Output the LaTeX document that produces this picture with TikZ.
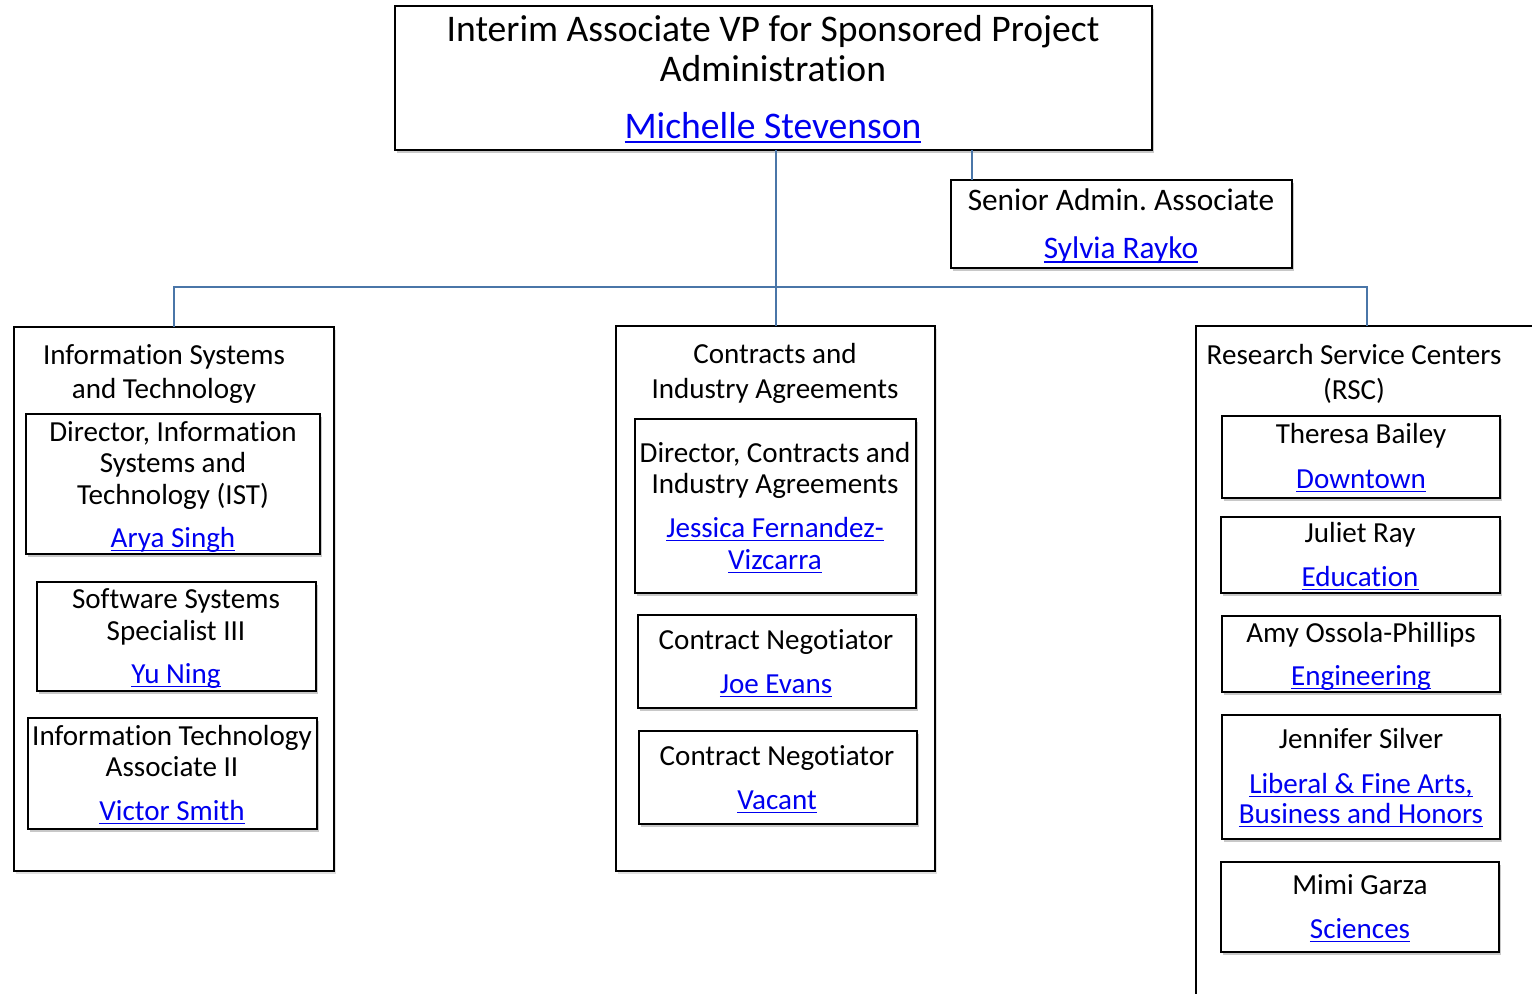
\documentclass[tikz,border=0pt]{standalone}
\usepackage{fontspec}
\setmainfont[RawFeature={-liga;-clig;-calt;-dlig}]{Carlito}
\usetikzlibrary{shadows,fit}
\definecolor{linkblue}{RGB}{0,0,240}
\definecolor{conn}{RGB}{74,118,168}
\newcommand\lnk[1]{\textcolor{linkblue}{\setbox0\hbox{#1}\rlap{\rule[-0.13em]{\wd0}{0.055em}}\box0}}
\frenchspacing
\begin{document}
\begin{tikzpicture}[x=0.75pt,y=-0.75pt,
  box/.style={draw=black, line width=1.4pt, fill=white, inner sep=0pt, outer sep=0pt,
    drop shadow={shadow xshift=1.5pt, shadow yshift=-2.5pt, opacity=0.3, fill=black!70}},
  outerbox/.style={draw=black, line width=1.2pt, fill=white, inner sep=0pt, outer sep=0pt,
    drop shadow={shadow xshift=1.5pt, shadow yshift=-2pt, opacity=0.2, fill=black!60}},
  cline/.style={draw=conn, line width=1.5pt},
  tx/.style={inner sep=0pt, anchor=base, yshift=-1.2pt, font=\fontsize{21.8}{26}\selectfont},
  big/.style={tx, font=\fontsize{28.2}{33}\selectfont},
  mid/.style={tx, font=\fontsize{23.5}{28}\selectfont}]
\useasboundingbox (0,0) rectangle (1532,994);
\fill[white] (0,0) rectangle (1532,994);

% boxes
\node[box, fit={(395,6) (1152,150)}] (top) {};
\node[box, fit={(951,180) (1292,268)}] (sen) {};
\node[outerbox, fit={(14,327) (334,871)}] (ist) {};
\node[outerbox, fit={(616,326) (935,871)}] (ca) {};
\begin{scope}
\clip (0,0) rectangle (1532,994);
\node[outerbox, fit={(1196,326) (1538,1010)}] (rsc) {};
\end{scope}

\node[box, fit={(26,414) (320,554)}] (istdir) {};
\node[box, fit={(37,582) (316,691)}] (sss) {};
\node[box, fit={(28,718) (317,829)}] (ita) {};

\node[box, fit={(635,419) (916,593)}] (cadir) {};
\node[box, fit={(638,615) (916,708)}] (cn1) {};
\node[box, fit={(639,731) (917,824)}] (cn2) {};

\node[box, fit={(1222,416) (1500,498)}] (r1) {};
\node[box, fit={(1221,517) (1500,593)}] (r2) {};
\node[box, fit={(1222,616) (1500,692)}] (r3) {};
\node[box, fit={(1222,715) (1500,839)}] (r4) {};
\node[box, fit={(1221,862) (1499,952)}] (r5) {};

% connectors
\coordinate (sj) at (972,150);
\coordinate (bus) at (775,287);
\draw[cline] (top.south -| ca.north) -- (ca.north);
\draw[cline] (sj) -- (sj |- sen.north);
\draw[cline] (ist.north) |- (bus) -| (rsc.north);

% texts
\node[big] (t1) at (773,40) {Interim Associate VP for Sponsored Project};
\node[big] (t2) at (773,80) {Administration};
\node[big] (t3) at (773,137) {\lnk{Michelle Stevenson}};

\node[mid] (s1) at (1121,209) {Senior Admin. Associate};
\node[mid] (s2) at (1121,257) {\lnk{Sylvia Rayko}};

\node[tx] (i1) at (164,363) {Information Systems};
\node[tx] (i2) at (164,397) {and Technology};
\node[tx] (i3) at (173,440) {Director, Information};
\node[tx] (i4) at (173,471) {Systems and};
\node[tx] (i5) at (173,503) {Technology (IST)};
\node[tx] (i6) at (173,546) {\lnk{Arya Singh}};
\node[tx] (i7) at (176,607) {Software Systems};
\node[tx] (i8) at (176,639) {Specialist III};
\node[tx] (i9) at (176,682) {\lnk{Yu Ning}};
\node[tx] (i10) at (172,744) {Information Technology};
\node[tx] (i11) at (172,775) {Associate II};
\node[tx] (i12) at (172,819) {\lnk{Victor Smith}};

\node[tx] (c1) at (775,362) {Contracts and};
\node[tx] (c2) at (775,397) {Industry Agreements};
\node[tx] (c3) at (775,461) {Director, Contracts and};
\node[tx] (c4) at (775,492) {Industry Agreements};
\node[tx] (c5) at (775,536) {\lnk{Jessica Fernandez-}};
\node[tx] (c6) at (775,568) {\lnk{Vizcarra}};
\node[tx] (c7) at (776,648) {Contract Negotiator};
\node[tx] (c8) at (776,692) {\lnk{Joe Evans}};
\node[tx] (c9) at (777,764) {Contract Negotiator};
\node[tx] (c10) at (777,808) {\lnk{Vacant}};

\node[tx] (r1a) at (1354,363) {Research Service Centers};
\node[tx] (r1b) at (1354,398) {(RSC)};
\node[tx] (r1c) at (1361,442) {Theresa Bailey};
\node[tx] (r1d) at (1361,487) {\lnk{Downtown}};
\node[tx] (r2a) at (1360,541) {Juliet Ray};
\node[tx] (r2b) at (1360,585) {\lnk{Education}};
\node[tx] (r3a) at (1361,641) {Amy Ossola-Phillips};
\node[tx] (r3b) at (1361,684) {\lnk{Engineering}};
\node[tx] (r4a) at (1361,747) {Jennifer Silver};
\node[tx] (r4b) at (1361,792) {\lnk{Liberal \& Fine Arts,}};
\node[tx] (r4c) at (1361,822) {\lnk{Business and Honors}};
\node[tx] (r5a) at (1360,893) {Mimi Garza};
\node[tx] (r5b) at (1360,937) {\lnk{Sciences}};
\end{tikzpicture}
\end{document}
